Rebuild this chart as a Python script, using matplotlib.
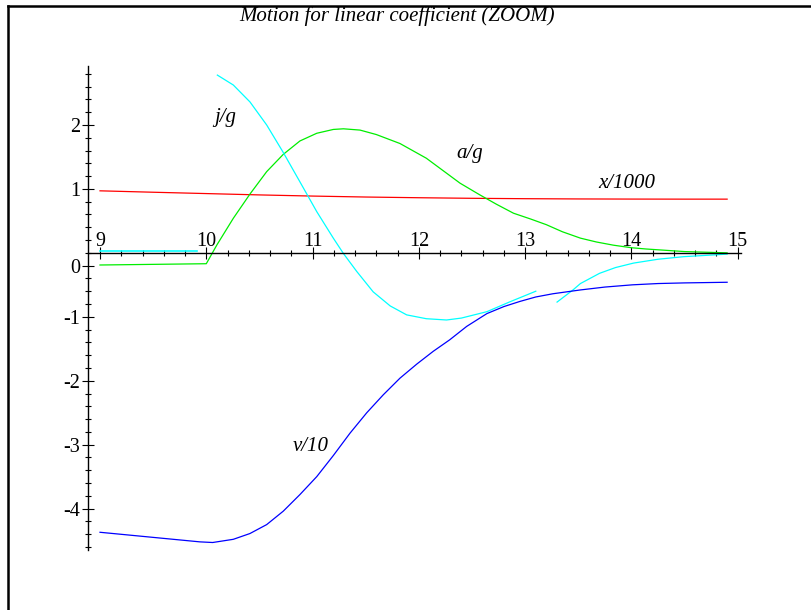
import matplotlib
matplotlib.use("Agg")
import matplotlib.pyplot as plt
from matplotlib.lines import Line2D
from matplotlib.ticker import FixedLocator
import numpy as np

# ---------------- data ----------------
t_x = [9.0, 9.5, 10.0, 10.5, 11.0, 11.5, 12.0, 12.5, 13.0, 13.5, 14.0, 14.5, 14.9]
x_1000 = [0.97, 0.948, 0.927, 0.906, 0.888, 0.873, 0.862, 0.853, 0.847, 0.843, 0.841, 0.840, 0.840]

t_a = [9.0, 10.0, 10.10, 10.254, 10.411, 10.568, 10.724, 10.881, 11.039, 11.195, 11.29,
       11.446, 11.60, 11.822, 12.07, 12.387, 12.57, 12.73, 12.89, 13.05, 13.2, 13.35,
       13.52, 13.67, 13.83, 14.0, 14.14, 14.5, 14.9]
a_g = [-0.19, -0.17, 0.125, 0.54, 0.92, 1.27, 1.54, 1.75, 1.87, 1.93, 1.94,
       1.92, 1.85, 1.71, 1.48, 1.09, 0.91, 0.76, 0.62, 0.53, 0.44, 0.33,
       0.23, 0.17, 0.12, 0.08, 0.06, 0.02, 0.0]

t_j1 = [9.0, 9.91]
j_g1 = [0.03, 0.03]
t_j2 = [10.104, 10.254, 10.411, 10.568, 10.724, 10.881, 11.039, 11.195, 11.29, 11.415,
        11.57, 11.73, 11.885, 12.07, 12.26, 12.4, 12.64, 12.85, 13.10]
j_g2 = [2.78, 2.625, 2.36, 2.0, 1.57, 1.11, 0.645, 0.23, -0.01, -0.29,
        -0.61, -0.83, -0.97, -1.03, -1.05, -1.02, -0.92, -0.77, -0.60]
t_j3 = [13.30, 13.45, 13.52, 13.70, 13.85, 14.02, 14.25, 14.49, 14.90]
j_g3 = [-0.77, -0.58, -0.48, -0.32, -0.23, -0.16, -0.10, -0.06, -0.02]

t_v = [9.0, 9.94, 10.06, 10.254, 10.41, 10.568, 10.724, 10.881, 11.039, 11.195, 11.352,
       11.51, 11.665, 11.822, 11.98, 12.135, 12.29, 12.45, 12.64, 12.8, 12.95, 13.1, 13.26,
       13.52, 13.75, 14.01, 14.25, 14.5, 14.9]
v_10 = [-4.37, -4.52, -4.53, -4.48, -4.39, -4.25, -4.04, -3.78, -3.50, -3.17, -2.82,
        -2.50, -2.22, -1.96, -1.74, -1.54, -1.36, -1.15, -0.95, -0.84, -0.76, -0.69, -0.64,
        -0.58, -0.535, -0.50, -0.48, -0.47, -0.46]

x_major = [9, 10, 11, 12, 13, 14, 15]
y_major = [-4, -3, -2, -1, 1, 2]
y_major_labels = ["-4", "-3", "-2", "-1", "1", "2"]

title = "Motion for linear coefficient (ZOOM)"
curve_labels = [("j/g", 10.18, 2.11), ("a/g", 12.48, 1.56),
                ("x/1000", 13.96, 1.09), ("v/10", 10.98, -3.03)]

# ---------------- figure ----------------
W, H = 812, 610
fig = plt.figure(figsize=(W / 100, H / 100), dpi=100)
serif = ["Liberation Serif", "DejaVu Serif"]
FS_TEXT = 15
FS_TICK = 14.5

px_left, px_right, px_top, px_bot = 88, 742, 65.5, 550.5
ax = fig.add_axes([px_left / W, 1 - px_bot / H, (px_right - px_left) / W, (px_bot - px_top) / H])
ax.set_xlim(8.887, 15.04)
ax.set_ylim(-4.655, 2.93)
ax.patch.set_alpha(0)

lw = 0.9
ax.plot(t_x, x_1000, color="#ff0000", lw=lw)
ax.plot(t_a, a_g, color="#00ee00", lw=lw)
ax.plot(t_j1, j_g1, color="#00ffff", lw=lw * 1.3)
ax.plot(t_j2, j_g2, color="#00ffff", lw=lw)
ax.plot(t_j3, j_g3, color="#00ffff", lw=lw)
ax.plot(t_v, v_10, color="#0000ff", lw=lw)

for txt, xx, yy in curve_labels:
    ax.text(xx, yy, txt, family=serif, style="italic", fontsize=FS_TEXT,
            ha="center", va="center")

ax.spines["right"].set_visible(False)
ax.spines["bottom"].set_visible(False)
ax.spines["top"].set_position(("data", 0))
ax.spines["top"].set_bounds(8.887, 15.03)
ax.spines["left"].set_bounds(-4.65, 2.93)
for s in ("top", "left"):
    ax.spines[s].set_linewidth(1.0)

ax.xaxis.set_ticks_position("top")
ax.xaxis.set_major_locator(FixedLocator(x_major))
ax.xaxis.set_minor_locator(FixedLocator(np.round(np.arange(9, 15.001, 0.2), 2)))
ax.set_xticklabels([str(v) for v in x_major])
ax.tick_params(axis="x", which="major", direction="inout", length=8, width=0.8, pad=-2.5,
               labelsize=FS_TICK)
ax.tick_params(axis="x", which="minor", direction="inout", length=4, width=0.8)

ax.yaxis.set_ticks_position("left")
ax.yaxis.set_major_locator(FixedLocator(y_major + [-0.2]))
ax.yaxis.set_minor_locator(FixedLocator(np.round(np.arange(-4.6, 2.81, 0.2), 2)))
ax.set_yticklabels(y_major_labels + ["0"])
ax.tick_params(axis="y", which="major", direction="inout", length=8, width=0.8, pad=1.5,
               labelsize=FS_TICK)
ax.tick_params(axis="y", which="minor", direction="inout", length=5, width=0.8)
for lab in ax.get_xticklabels() + ax.get_yticklabels():
    lab.set_family(serif)

fig.text(397 / W, 1 - 16 / H, title, family=serif, style="italic", fontsize=FS_TEXT,
         ha="center", va="center")

fig.add_artist(Line2D([8.5 / W, 8.5 / W], [0, 1 - 5.5 / H], color="black", lw=1.8,
                      transform=fig.transFigure))
fig.add_artist(Line2D([8.5 / W, 1], [1 - 5.5 / H, 1 - 5.5 / H], color="black", lw=1.8,
                      transform=fig.transFigure))

fig.savefig("out.png", dpi=100)
